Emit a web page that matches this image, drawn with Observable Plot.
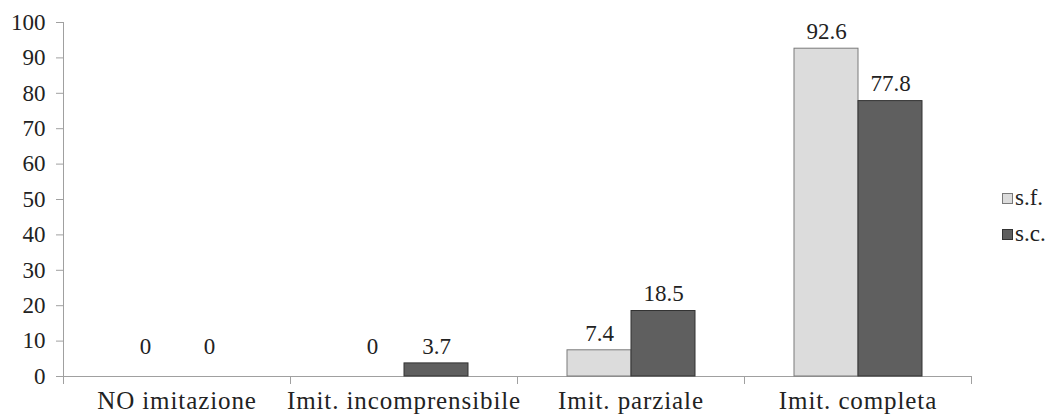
<!DOCTYPE html>
<html>
<head>
<meta charset="utf-8">
<script src="https://cdn.jsdelivr.net/npm/d3@7"></script>
<script src="https://cdn.jsdelivr.net/npm/@observablehq/plot@0.6"></script>
<style>
  html, body { margin: 0; padding: 0; background: #fff; }
  #wrap { position: relative; width: 1055px; height: 416px; font-family: "Liberation Serif", serif; color: #222; overflow: hidden; }
  #legend { position: absolute; left: 1002px; top: 180px; font-size: 23px; line-height: 36px; }
  #legend .item { display: flex; align-items: center; white-space: nowrap; }
  #legend .sw { width: 11px; height: 11px; border: 1px solid #555; margin-right: 2px; box-sizing: border-box; }
  svg [aria-label="fx-axis tick label"] text { letter-spacing: 0.9px; }
</style>
</head>
<body>
<div id="wrap"><div id="legend"></div></div>
<script>
const categories = ["NO imitazione", "Imit. incomprensibile", "Imit. parziale", "Imit. completa"];
const series = ["s.f.", "s.c."];
const sfValues = [0, 0, 7.4, 92.6];
const scValues = [0, 3.7, 18.5, 77.8];
const yTicks = [0, 10, 20, 30, 40, 50, 60, 70, 80, 90, 100];
const fills = ["#dcdcdc", "#5f5f5f"];
const strokes = ["#7a7a7a", "#333333"];

const rows = [];
categories.forEach((c, i) => {
  rows.push({cat: c, series: series[0], value: sfValues[i]});
  rows.push({cat: c, series: series[1], value: scValues[i]});
});

const axisColor = "#a0a0a0";
const font = "'Liberation Serif', serif";

const chart = Plot.plot({
  width: 1055,
  height: 416,
  marginLeft: 62,
  marginRight: 83,
  marginTop: 22,
  marginBottom: 40,
  style: {fontFamily: font, fontSize: "23px", color: "#222", background: "transparent", overflow: "visible"},
  fx: {domain: categories, padding: 0, label: null},
  x: {domain: series, paddingInner: 0, paddingOuter: 0.75, axis: null},
  y: {domain: [0, 100], label: null},
  color: {domain: series, range: fills},
  marks: [
    Plot.axisFx({anchor: "bottom", tickSize: 0, tickPadding: 15, label: null, fontSize: 25, fill: "#222"}),
    Plot.axisY({ticks: yTicks, tickSize: 7, tickPadding: 11, stroke: axisColor, fontSize: 23, fill: "#222", label: null}),
    Plot.frame({anchor: "left", facetAnchor: "left", stroke: axisColor, insetBottom: -7}),
    Plot.frame({anchor: "left", stroke: axisColor, insetTop: 354, insetBottom: -7}),
    Plot.frame({anchor: "right", facetAnchor: "right", stroke: axisColor, insetTop: 354, insetBottom: -7}),
    Plot.ruleY([0], {stroke: axisColor}),
    Plot.barY(rows, {fx: "cat", x: "series", y: "value", fill: "series",
      stroke: d => strokes[series.indexOf(d.series)], strokeWidth: 1}),
    Plot.text(rows.filter(d => d.value !== 0), {fx: "cat", x: "series", y: "value", text: d => String(d.value),
      dy: -17, fontSize: 23, fill: "#222"}),
    Plot.text(rows.filter(d => d.value === 0), {fx: "cat", x: "series", y: "value", text: d => String(d.value),
      dy: -30, fontSize: 23, fill: "#222"})
  ]
});
document.getElementById("wrap").prepend(chart);

const legend = document.getElementById("legend");
series.forEach((s, i) => {
  const item = document.createElement("div");
  item.className = "item";
  const sw = document.createElement("span");
  sw.className = "sw";
  sw.style.background = fills[i];
  sw.style.borderColor = strokes[i];
  const lab = document.createElement("span");
  lab.textContent = s;
  item.append(sw, lab);
  legend.append(item);
});
</script>
</body>
</html>
